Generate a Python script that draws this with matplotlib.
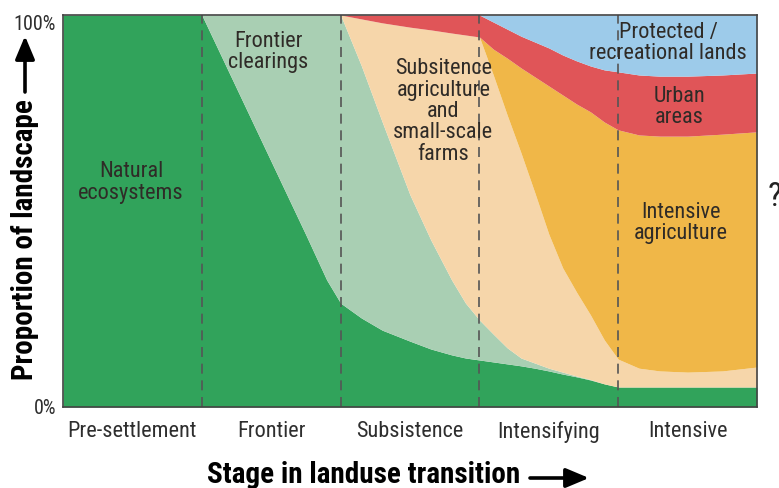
import matplotlib
matplotlib.use("Agg")
import matplotlib.pyplot as plt
from matplotlib import font_manager
from matplotlib.patches import FancyArrowPatch

# ===================== 字体（优先使用窄体）=====================
names = {f.name for f in font_manager.fontManager.ttflist}
narrow = 'DejaVu Sans'
for cand in ['Roboto Condensed', 'Liberation Sans Narrow', 'Archivo Narrow', 'PT Sans Narrow']:
    if cand in names:
        narrow = cand
        break
scale = 1.0 if narrow != 'DejaVu Sans' else 0.82
plt.rcParams['font.family'] = [narrow, 'DejaVu Sans']

# ===================== 数据（各层上边界，%）=====================
stage_names = ['Pre-settlement', 'Frontier', 'Subsistence', 'Intensifying', 'Intensive']
stage_pos = [0, 1, 1.25, 1.5, 1.75, 1.9, 2, 2.15, 2.3, 2.5, 2.65, 2.8, 2.9, 3,
             3.1, 3.2, 3.3, 3.4, 3.5, 3.6, 3.7, 3.8, 3.9, 4, 4.15, 4.3, 4.5, 4.75, 5]

natural_top = [100, 100, 81.3, 62.6, 43.9, 32.4, 26.5, 22.7, 19.6, 16.8, 14.8, 13.3, 12.5, 12.0,
               11.5, 11.0, 10.5, 9.9, 9.2, 8.4, 7.7, 6.9, 5.9, 5.1, 5.1, 5.1, 5.1, 5.1, 5.1]
frontier_top = [100, 100, 100, 100, 100, 100, 100, 87.0, 72.7, 54.1, 42.6, 32.4, 26.5, 22.2,
                18.6, 15.1, 12.5, 11.2, 9.9, 8.9, 7.9, 7.0, 5.9, 5.1, 5.1, 5.1, 5.1, 5.1, 5.1]
subsistence_top = [100, 100, 100, 100, 100, 100, 100, 99.0, 98.0, 96.9, 96.2, 95.4, 94.9, 94.4,
                   84.7, 74.5, 64.8, 54.6, 44.1, 35.5, 29.3, 23.5, 17.1, 12.2, 9.9, 9.2, 8.9, 9.2, 10.2]
intensive_top = [100, 100, 100, 100, 100, 100, 100, 99.0, 98.0, 96.9, 96.2, 95.4, 94.9, 94.4,
                 91.3, 89.0, 86.5, 84.2, 81.9, 79.6, 77.3, 75.3, 72.7, 70.7, 69.4, 69.1, 69.1, 69.6, 70.2]
urban_top = [100, 100, 100, 100, 100, 100, 100, 100, 100, 100, 100, 100, 100, 100,
             98.2, 96.4, 94.6, 93.1, 91.6, 89.8, 88.3, 87.0, 86.0, 85.5, 84.7, 84.4, 84.4, 84.7, 85.2]
protected_top = [100] * len(stage_pos)

layers = [
    ('natural', [0] * len(stage_pos), natural_top, '#31a35b'),
    ('frontier', natural_top, frontier_top, '#a9cfb3'),
    ('subsistence', frontier_top, subsistence_top, '#f6d6aa'),
    ('intensive', subsistence_top, intensive_top, '#f0b748'),
    ('urban', intensive_top, urban_top, '#e05558'),
    ('protected', urban_top, protected_top, '#9dcbea'),
]

# ===================== 绘图 =====================
fig = plt.figure(figsize=(7.79, 4.88), dpi=100)
ax = fig.add_axes([63 / 779, 1 - 407 / 488, (757 - 63) / 779, (407 - 15) / 488])

for name, lo, hi, color in layers:
    ax.fill_between(stage_pos, lo, hi, color=color, linewidth=0, zorder=1)

for b in [1, 2, 3, 4]:
    ax.axvline(b, color='#555555', lw=1.2, ls=(0, (6, 4)), zorder=3)

ax.set_xlim(0, 5)
ax.set_ylim(0, 100)
for s in ax.spines.values():
    s.set_color('#444444')
    s.set_linewidth(1.2)
    s.set_zorder(4)

ax.set_xticks([0.5, 1.5, 2.5, 3.5, 4.5])
ax.set_xticklabels(stage_names, fontsize=16 * scale, color='#2e2e2e')
ax.set_yticks([0, 100])
ax.set_yticklabels(['0%', '100%'], fontsize=14.5 * scale, color='#2e2e2e')
ax.get_yticklabels()[1].set_va('top')
ax.tick_params(axis='x', length=0, pad=10)
ax.tick_params(axis='y', length=0, pad=5)

# 区域标注
txt = dict(fontsize=16 * scale, color='#2f2b27', ha='center', va='center', linespacing=1.02, zorder=5)
ax.text(0.49, 57.3, 'Natural\necosystems', **txt)
ax.text(1.48, 90.6, 'Frontier\nclearings', **txt)
ax.text(2.74, 75.4, 'Subsitence\nagriculture\nand\nsmall-scale\nfarms', **txt)
ax.text(4.36, 92.9, 'Protected /\nrecreational lands', **txt)
ax.text(4.44, 76.5, 'Urban\nareas', **txt)
ax.text(4.45, 46.9, 'Intensive\nagriculture', **txt)

fig.text(768 / 779, 1 - 197 / 488, '?', fontsize=24, color='#222222', ha='left', va='center')

# 坐标轴标题 + 箭头
fig.text(364 / 779, 5 / 488, 'Stage in landuse transition', fontsize=21 * scale,
         fontweight='bold', ha='center', va='baseline')
fig.text(25 / 779, 1 - 240 / 488, 'Proportion of landscape', fontsize=21 * scale,
         fontweight='bold', rotation=90, ha='center', va='center')
arrow = dict(arrowstyle='-|>,head_length=1.0,head_width=0.42', mutation_scale=14,
             color='black', lw=2.6, shrinkA=0, shrinkB=0, transform=fig.transFigure)
fig.add_artist(FancyArrowPatch((530 / 779, 1 - 478 / 488), (589 / 779, 1 - 478 / 488), **arrow))
fig.add_artist(FancyArrowPatch((25 / 779, 1 - 92 / 488), (25 / 779, 1 - 36 / 488), **arrow))

fig.savefig('out.png', dpi=100)
